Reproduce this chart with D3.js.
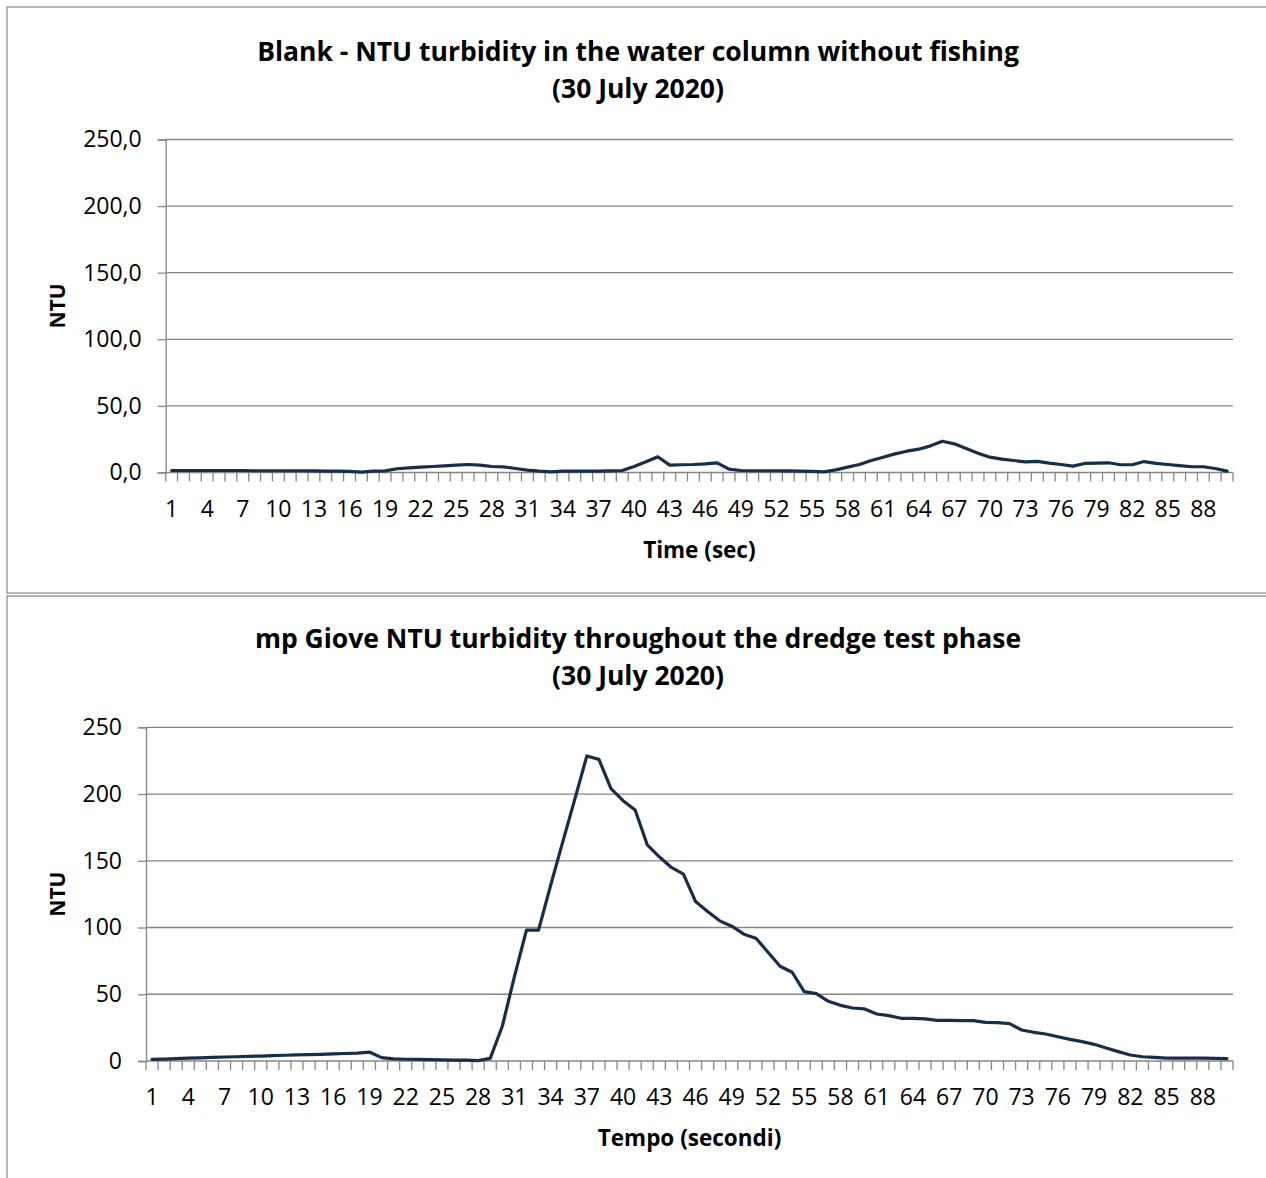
<!DOCTYPE html>
<html>
<head>
<meta charset="utf-8">
<script src="https://cdn.jsdelivr.net/npm/d3@7"></script>
<style>
  body { margin: 0; background: #fff; }
  text { font-family: "Open Sans", Lato, sans-serif; fill: #000; }
</style>
</head>
<body>
<script>
// Page size
const pageWidth = 1266;
const pageHeight = 1178;

// Category labels on the x axis (seconds 1..90)
const seconds = d3.range(1, 91);

// Blank run - NTU readings, one per second
const blankNtu = [
  1.5, 1.5, 1.5, 1.5, 1.5, 1.5, 1.5, 1.3, 1.3, 1.3,
  1.3, 1.3, 1.2, 1.0, 1.0, 0.8, 0.3, 1.0, 1.2, 2.8,
  3.5, 4.0, 4.5, 5.0, 5.5, 6.0, 5.5, 4.5, 4.2, 3.0,
  1.8, 1.0, 0.4, 1.0, 1.0, 1.0, 1.0, 1.2, 1.5, 4.5,
  8.0, 11.8, 5.5, 5.8, 6.0, 6.5, 7.2, 2.5, 1.5, 1.3,
  1.3, 1.3, 1.2, 1.0, 0.8, 0.5, 2.0, 4.0, 6.0, 9.0,
  11.5, 14.0, 16.0, 17.5, 20.0, 23.5, 21.5, 18.0, 14.5, 11.5,
  10.0, 9.0, 8.0, 8.3, 7.0, 6.0, 4.8, 6.8, 7.0, 7.3,
  5.8, 5.8, 8.2, 6.8, 6.0, 5.2, 4.3, 4.3, 3.0, 1.0
];

// mp Giove dredge test - NTU readings, one per second
const dredgeNtu = [
  1.2, 1.4, 1.8, 2.1, 2.4, 2.7, 3.0, 3.2, 3.5, 3.7,
  4.0, 4.3, 4.6, 4.8, 5.0, 5.4, 5.6, 5.9, 6.7, 2.5,
  1.6, 1.3, 1.2, 1.0, 0.9, 0.7, 0.6, 0.3, 2.0, 26.0,
  63.0, 98.0, 98.0, 131.5, 164.0, 196.0, 228.5, 226.0, 204.0, 195.0,
  188.0, 162.0, 153.0, 145.0, 140.0, 119.5, 112.0, 105.0, 101.0, 95.0,
  92.0, 81.5, 71.0, 66.5, 52.0, 50.5, 44.7, 41.7, 39.7, 39.0,
  35.2, 34.0, 32.0, 32.0, 31.5, 30.5, 30.5, 30.2, 30.2, 29.0,
  28.7, 28.0, 23.2, 21.5, 20.2, 18.2, 16.2, 14.5, 12.5, 9.7,
  7.0, 4.5, 3.2, 2.7, 2.2, 2.2, 2.2, 2.1, 2.0, 1.8
];

// Y ticks
const yTicks = [0, 50, 100, 150, 200, 250];

const gridColor = "#868686";
const lineColor = "#172e4b";

const svg = d3.select("body")
  .append("svg")
  .attr("width", pageWidth)
  .attr("height", pageHeight);

function drawChart(cfg) {
  const g = svg.append("g");

  // chart frame
  g.append("rect")
    .attr("x", cfg.frame[0]).attr("y", cfg.frame[1])
    .attr("width", cfg.frame[2]).attr("height", cfg.frame[3])
    .attr("fill", "#fff")
    .attr("stroke", gridColor)
    .attr("stroke-width", 1.2);

  const x = d3.scaleBand()
    .domain(seconds)
    .range([cfg.left, cfg.right])
    .padding(0);

  const y = d3.scaleLinear()
    .domain([0, 250])
    .range([cfg.bottom, cfg.top]);

  // horizontal gridlines
  g.append("g")
    .selectAll("line")
    .data(yTicks.filter((d) => d > 0))
    .join("line")
    .attr("x1", cfg.left).attr("x2", cfg.right)
    .attr("y1", (d) => y(d)).attr("y2", (d) => y(d))
    .attr("stroke", gridColor)
    .attr("stroke-width", 1.3);

  // y axis
  const yAxis = g.append("g")
    .attr("transform", `translate(${cfg.left},0)`)
    .call(d3.axisLeft(y).tickValues(yTicks).tickSize(8).tickPadding(16).tickFormat(cfg.yFormat));
  yAxis.select(".domain").attr("stroke", gridColor).attr("stroke-width", 1.3);
  yAxis.selectAll(".tick line").attr("stroke", gridColor).attr("stroke-width", 1.3);
  yAxis.selectAll(".tick text").style("font-size", "23px").attr("fill", "#000");

  // x axis: ticks on category boundaries, labels every 3rd second
  const xg = g.append("g")
    .attr("transform", `translate(0,${cfg.bottom})`);
  xg.append("line")
    .attr("x1", cfg.left).attr("x2", cfg.right)
    .attr("stroke", gridColor).attr("stroke-width", 1.3);
  xg.selectAll("line.tk")
    .data(seconds.map((s) => x(s)).concat([cfg.right]))
    .join("line")
    .attr("class", "tk")
    .attr("x1", (d) => d).attr("x2", (d) => d)
    .attr("y1", 0).attr("y2", 9)
    .attr("stroke", gridColor).attr("stroke-width", 1.3);
  xg.selectAll("text")
    .data(seconds.filter((s) => (s - 1) % 3 === 0))
    .join("text")
    .attr("x", (d) => x(d) + x.bandwidth() / 2)
    .attr("y", 44)
    .attr("text-anchor", "middle")
    .style("font-size", "23px")
    .text((d) => d);

  // data line
  const line = d3.line()
    .x((d, i) => x(seconds[i]) + x.bandwidth() / 2)
    .y((d) => y(d));
  g.append("path")
    .datum(cfg.values)
    .attr("fill", "none")
    .attr("stroke", lineColor)
    .attr("stroke-width", 3.2)
    .attr("stroke-linejoin", "round")
    .attr("stroke-linecap", "round")
    .attr("d", line);

  // title
  const title = g.append("text")
    .attr("x", cfg.titleX)
    .attr("text-anchor", "middle")
    .style("font-size", "26.5px")
    .style("font-weight", "bold");
  cfg.title.forEach((t, i) => {
    title.append("tspan")
      .attr("x", cfg.titleX)
      .attr("y", cfg.titleY + i * 37)
      .text(t);
  });

  // axis titles
  g.append("text")
    .attr("x", (cfg.left + cfg.right) / 2)
    .attr("y", cfg.bottom + 85)
    .attr("text-anchor", "middle")
    .style("font-size", "22.5px")
    .style("font-weight", "bold")
    .text(cfg.xTitle);

  g.append("text")
    .attr("transform", `translate(65,${(cfg.top + cfg.bottom) / 2}) rotate(-90)`)
    .attr("text-anchor", "middle")
    .style("font-size", "21px")
    .style("font-weight", "bold")
    .text("NTU");
}

drawChart({
  frame: [7, 7, 1290, 586],
  left: 165.7, right: 1233, top: 139.5, bottom: 472.5,
  values: blankNtu,
  yFormat: (d) => d3.format(".1f")(d).replace(".", ","),
  title: ["Blank - NTU turbidity in the water column without fishing", "(30 July 2020)"],
  titleX: 638, titleY: 61,
  xTitle: "Time (sec)"
});

drawChart({
  frame: [7, 596, 1290, 620],
  left: 146, right: 1233, top: 727.3, bottom: 1061,
  values: dredgeNtu,
  yFormat: (d) => d,
  title: ["mp Giove NTU turbidity throughout the dredge test phase", "(30 July 2020)"],
  titleX: 638, titleY: 648,
  xTitle: "Tempo (secondi)"
});
</script>
</body>
</html>
